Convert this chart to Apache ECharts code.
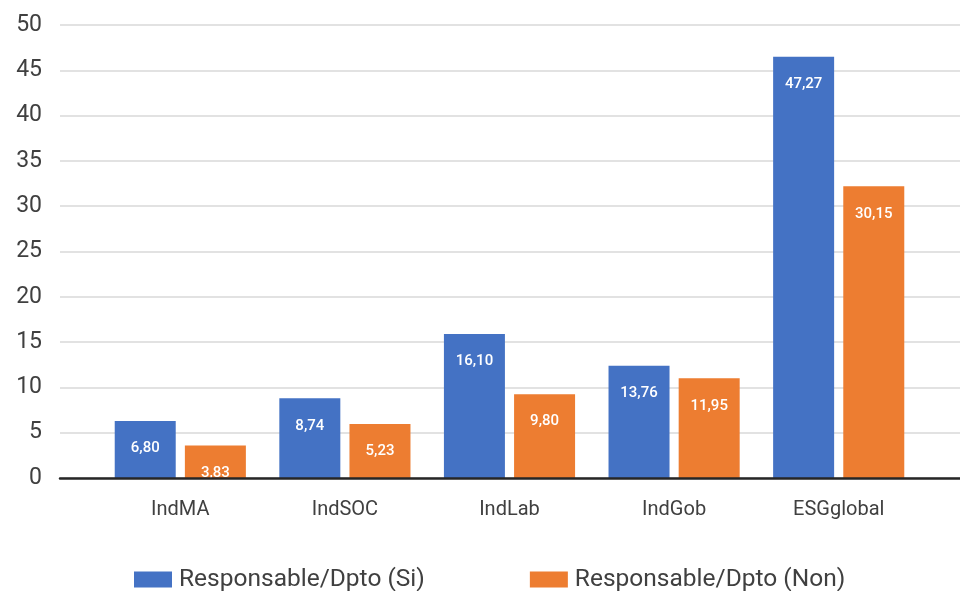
<!DOCTYPE html>
<html>
<head>
<meta charset="utf-8">
<script src="https://cdn.jsdelivr.net/npm/echarts@6/dist/echarts.min.js"></script>
<style>html,body{margin:0;padding:0;background:#fff}#c{width:960px;height:591px}</style>
</head>
<body>
<div id="c"></div>
<script>
var categories = ['IndMA', 'IndSOC', 'IndLab', 'IndGob', 'ESGglobal'];
var seriesNames = ['Responsable/Dpto (Si)', 'Responsable/Dpto (Non)'];
var siValues = [6.3, 8.8, 15.9, 12.4, 46.5];
var nonValues = [3.6, 5.95, 9.25, 11.0, 32.2];
var siLabels = ['6,80', '8,74', '16,10', '13,76', '47,27'];
var nonLabels = ['3,83', '5,23', '9,80', '11,95', '30,15'];
var yTicks = [0, 5, 10, 15, 20, 25, 30, 35, 40, 45, 50];

var FONT = 'Roboto';
var chart = echarts.init(document.getElementById('c'), null, {renderer: 'canvas'});
function lbl(arr) {
  return {
    show: true, position: 'insideTop', distance: 20, color: '#ffffff',
    fontFamily: FONT, fontSize: 15, fontWeight: 500,
    formatter: function (p) { return arr[p.dataIndex]; }
  };
}
chart.setOption({
  animation: false,
  backgroundColor: '#ffffff',
  textStyle: {fontFamily: FONT},
  grid: [
    {left: 60, right: 0, top: 25, bottom: 113, containLabel: false},
    {left: 98, right: 39, top: 25, bottom: 113, containLabel: false}
  ],
  xAxis: [
    {gridIndex: 0, type: 'category', data: [''], z: 10,
     axisLine: {show: true, lineStyle: {color: '#262626', width: 2.5}},
     axisTick: {show: false}, axisLabel: {show: false}},
    {gridIndex: 1, type: 'category', data: categories,
     axisLine: {show: false}, axisTick: {show: false},
     axisLabel: {color: '#404040', fontFamily: FONT, fontSize: 20, margin: 22}}
  ],
  yAxis: [
    {gridIndex: 0, type: 'value', min: yTicks[0], max: yTicks[yTicks.length - 1], interval: 5,
     axisLine: {show: false}, axisTick: {show: false},
     axisLabel: {color: '#404040', fontFamily: FONT, fontSize: 23, margin: 18},
     splitLine: {lineStyle: {color: '#d9d9d9', width: 1.5}}},
    {gridIndex: 1, type: 'value', min: yTicks[0], max: yTicks[yTicks.length - 1], interval: 5, show: false,
     splitLine: {show: false}}
  ],
  legend: {
    data: seriesNames,
    left: 129, top: 562,
    itemWidth: 38, itemHeight: 16, itemGap: 105,
    icon: 'rect',
    textStyle: {color: '#404040', fontFamily: FONT, fontSize: 24.5, padding: [0, 0, 0, 2]}
  },
  series: [
    {name: seriesNames[0], type: 'bar', xAxisIndex: 1, yAxisIndex: 1, data: siValues,
     barWidth: 61, barGap: '15%', itemStyle: {color: '#4472C4'}, label: lbl(siLabels)},
    {name: seriesNames[1], type: 'bar', xAxisIndex: 1, yAxisIndex: 1, data: nonValues,
     barWidth: 61, barGap: '15%', itemStyle: {color: '#ED7D31'}, label: lbl(nonLabels)}
  ]
});
</script>
</body>
</html>
